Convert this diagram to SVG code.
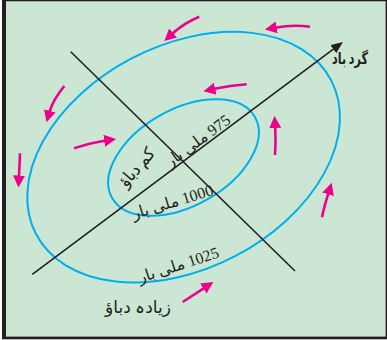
<svg xmlns="http://www.w3.org/2000/svg" width="387" height="340" viewBox="0 0 387 340">
  <style>
    .ell{fill:none;stroke:#00aeef;stroke-width:2}
    .ln{fill:none;stroke:#231f20;stroke-width:1.6}
    .pk{fill:none;stroke:#ec008c;stroke-width:2.6;marker-end:url(#ph)}
    .ur{font-family:'Liberation Serif','DejaVu Sans',serif;font-size:17px;fill:#231f20;direction:rtl;text-anchor:middle}
    .nm{font-size:16px}
  </style>
  <defs>
    <marker id="ph" viewBox="0 0 12 12" refX="0.5" refY="6" markerWidth="12" markerHeight="12" markerUnits="userSpaceOnUse" orient="auto">
      <path d="M0,0 L12,6 L0,12 z" fill="#ec008c"/>
    </marker>
    <marker id="bh" viewBox="0 0 12 10" refX="0.5" refY="5" markerWidth="12" markerHeight="10" markerUnits="userSpaceOnUse" orient="auto">
      <path d="M0,0 L12,5 L0,10 z" fill="#231f20"/>
    </marker>
  </defs>
  <rect x="2" y="0" width="385" height="339" fill="#cce6d4"/>
  <g id="frame" fill="#231f20">
    <rect x="2" y="0" width="4" height="339"/>
    <rect x="2" y="0" width="385" height="1.3"/>
    <rect x="2" y="336.6" width="385" height="2.7"/>
    <rect x="385.6" y="0" width="1.4" height="339"/>
  </g>
  <g id="outer-isobar">
    <ellipse class="ell" cx="183.6" cy="157.2" rx="166.4" ry="111.6" transform="rotate(-27.5 183.6 157.2)"/>
    <text class="ur nm" transform="translate(180,270) rotate(-18)">1025 ملی بار</text>
  </g>
  <g id="inner-isobar">
    <ellipse class="ell" cx="183.5" cy="157.5" rx="82.1" ry="48.2" transform="rotate(-29.6 183.5 157.5)"/>
    <text class="ur nm" transform="translate(174,207) rotate(-17)">1000 ملی بار</text>
  </g>
  <g id="low-centre">
    <text class="ur nm" transform="translate(201,145) rotate(-36.5)">975 ملی بار</text>
    <text class="ur" transform="translate(141,171) rotate(-49)" textLength="46">کم دباؤ</text>
  </g>
  <g id="high-pressure">
    <text class="ur" x="138" y="313" textLength="66">زیادہ دباؤ</text>
  </g>
  <g id="cyclone-label">
    <text class="ur" x="350" y="64" style="font-weight:bold;font-size:16px" textLength="36" lengthAdjust="spacingAndGlyphs">گرد باد</text>
  </g>
  <g id="connectors">
    <path class="ln" d="M32.3,274.3 L333.7,48.9" marker-end="url(#bh)"/>
    <path class="ln" d="M70.7,51.7 L295,271"/>
    <path class="pk" d="M199.3,16.7 Q184,23 172.8,33.3"/>
    <path class="pk" d="M310,26.7 Q293,24.5 276.2,27.5"/>
    <path class="pk" d="M64.3,86 Q53,100 49.7,111.3"/>
    <path class="pk" d="M20,153.3 Q19.5,165 19,176"/>
    <path class="pk" d="M74,148.3 Q92,142.5 104.7,140.7"/>
    <path class="pk" d="M246.7,84.3 Q230,85.5 214.7,88.8"/>
    <path class="pk" d="M275,155 Q276,140 275.2,127.5"/>
    <path class="pk" d="M322,217.3 Q324,207 328.2,193.8"/>
    <path class="pk" d="M182.7,302 L203.7,288.3"/>
  </g>
</svg>
